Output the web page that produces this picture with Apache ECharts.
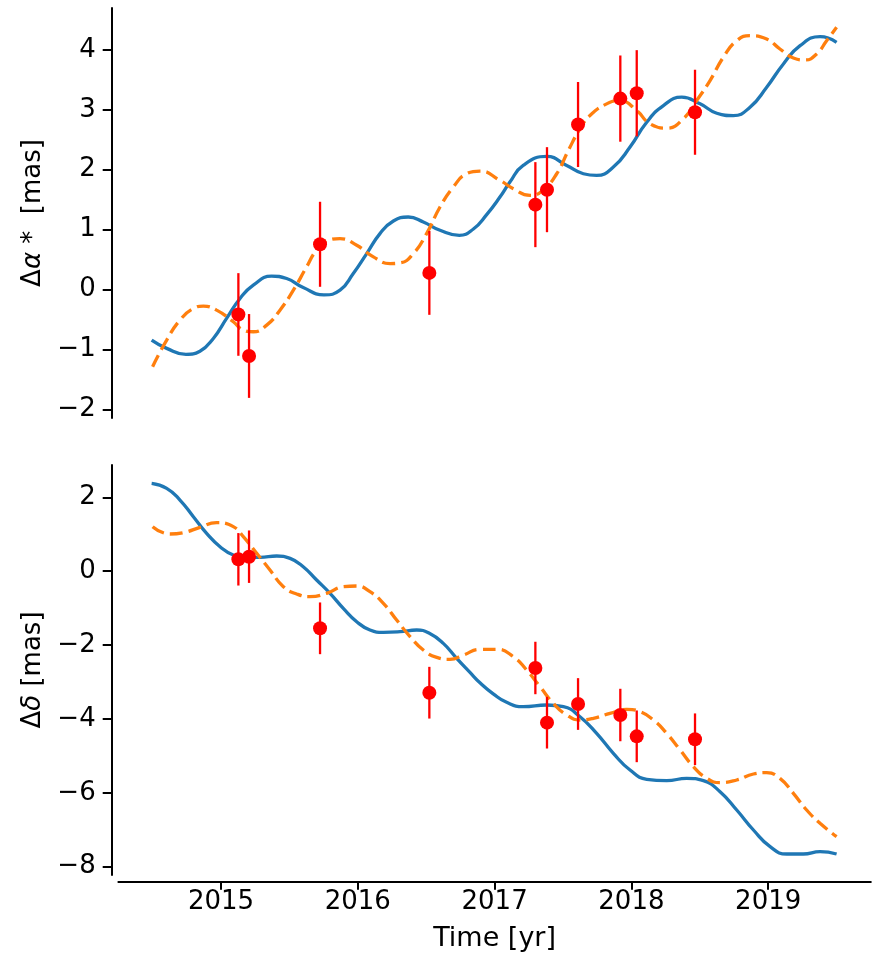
<!DOCTYPE html>
<html>
<head>
<meta charset="utf-8">
<script src="https://cdn.jsdelivr.net/npm/echarts@6/dist/echarts.min.js"></script>
<style>html,body{margin:0;padding:0;background:#fff;}#c{width:877px;height:959px;}</style>
</head>
<body>
<div id="c"></div>
<script>
// ---------- data ----------
const obsTime = [2015.127, 2015.205, 2015.724, 2016.523, 2017.298, 2017.383, 2017.610, 2017.919, 2018.039, 2018.465];
const obsRA   = [-0.417, -1.110, 0.755, 0.277, 1.417, 1.667, 2.755, 3.188, 3.277, 2.960];
const errRA   = [0.69, 0.70, 0.71, 0.70, 0.71, 0.71, 0.71, 0.72, 0.72, 0.71];
const obsDec  = [0.322, 0.393, -1.546, -3.289, -2.620, -4.100, -3.595, -3.893, -4.470, -4.550];
const errDec  = [0.71, 0.71, 0.70, 0.70, 0.71, 0.70, 0.70, 0.71, 0.70, 0.70];

// solid (blue) model, top panel
const tBlueRA = [2014.493, 2014.603, 2014.744, 2014.846, 2014.944, 2015.041, 2015.139, 2015.236, 2015.370, 2015.480, 2015.601, 2015.753, 2015.870, 2015.967, 2016.065, 2016.162, 2016.260, 2016.369, 2016.479, 2016.601, 2016.742, 2016.845, 2016.942, 2017.039, 2017.112, 2017.209, 2017.381, 2017.527, 2017.649, 2017.746, 2017.868, 2017.990, 2018.112, 2018.234, 2018.368, 2018.502, 2018.624, 2018.745, 2018.867, 2018.989, 2019.111, 2019.233, 2019.379, 2019.500];
const vBlueRA = [-0.845, -0.983, -1.083, -1.030, -0.817, -0.483, -0.150, 0.072, 0.222, 0.183, 0.033, -0.089, -0.011, 0.267, 0.600, 0.933, 1.144, 1.211, 1.128, 0.989, 0.905, 1.010, 1.250, 1.544, 1.794, 2.072, 2.222, 2.072, 1.933, 1.905, 2.044, 2.378, 2.794, 3.072, 3.211, 3.100, 2.944, 2.905, 3.044, 3.378, 3.767, 4.072, 4.222, 4.128];

// dashed (orange) model, top panel
const tOrangeRA = [2014.500, 2014.603, 2014.700, 2014.798, 2014.871, 2014.968, 2015.090, 2015.163, 2015.236, 2015.334, 2015.431, 2015.529, 2015.626, 2015.699, 2015.797, 2015.870, 2015.992, 2016.114, 2016.236, 2016.309, 2016.406, 2016.503, 2016.601, 2016.698, 2016.795, 2016.893, 2017.039, 2017.137, 2017.259, 2017.350, 2017.454, 2017.539, 2017.624, 2017.697, 2017.819, 2017.917, 2018.038, 2018.136, 2018.258, 2018.379, 2018.477, 2018.575, 2018.672, 2018.770, 2018.867, 2018.989, 2019.086, 2019.184, 2019.269, 2019.354, 2019.427, 2019.500];
const vOrangeRA = [-1.289, -0.845, -0.511, -0.317, -0.278, -0.345, -0.539, -0.678, -0.706, -0.595, -0.345, -0.011, 0.378, 0.655, 0.833, 0.850, 0.739, 0.544, 0.433, 0.444, 0.600, 0.933, 1.378, 1.711, 1.933, 1.978, 1.822, 1.683, 1.572, 1.650, 1.933, 2.322, 2.683, 2.905, 3.100, 3.155, 2.989, 2.767, 2.694, 2.850, 3.155, 3.489, 3.878, 4.155, 4.238, 4.183, 4.016, 3.867, 3.833, 3.933, 4.155, 4.378];

// solid (blue) model, bottom panel
const tBlueDec = [2014.493, 2014.603, 2014.700, 2014.798, 2014.895, 2014.993, 2015.090, 2015.188, 2015.285, 2015.407, 2015.505, 2015.601, 2015.699, 2015.797, 2015.894, 2015.992, 2016.089, 2016.187, 2016.309, 2016.431, 2016.523, 2016.625, 2016.723, 2016.820, 2016.893, 2016.990, 2017.088, 2017.209, 2017.381, 2017.503, 2017.624, 2017.746, 2017.868, 2017.990, 2018.112, 2018.258, 2018.404, 2018.526, 2018.648, 2018.770, 2018.892, 2019.014, 2019.135, 2019.257, 2019.379, 2019.500];
const vBlueDec = [2.379, 2.243, 1.927, 1.476, 1.025, 0.664, 0.439, 0.375, 0.375, 0.411, 0.348, 0.123, -0.238, -0.599, -1.005, -1.366, -1.592, -1.655, -1.637, -1.592, -1.682, -1.953, -2.359, -2.740, -3.020, -3.320, -3.550, -3.667, -3.622, -3.667, -3.938, -4.389, -4.931, -5.382, -5.634, -5.670, -5.607, -5.670, -5.968, -6.464, -7.006, -7.457, -7.656, -7.656, -7.593, -7.656];

// dashed (orange) model, bottom panel
const tOrangeDec = [2014.500, 2014.627, 2014.725, 2014.846, 2014.968, 2015.090, 2015.163, 2015.261, 2015.358, 2015.456, 2015.553, 2015.650, 2015.772, 2015.894, 2015.992, 2016.089, 2016.187, 2016.284, 2016.382, 2016.479, 2016.577, 2016.674, 2016.772, 2016.893, 2017.015, 2017.137, 2017.234, 2017.332, 2017.429, 2017.527, 2017.624, 2017.722, 2017.844, 2017.966, 2018.063, 2018.161, 2018.258, 2018.356, 2018.453, 2018.551, 2018.648, 2018.770, 2018.892, 2018.989, 2019.086, 2019.184, 2019.281, 2019.379, 2019.500];
const vOrangeDec = [1.206, 1.007, 1.043, 1.188, 1.314, 1.206, 0.935, 0.484, 0.033, -0.419, -0.617, -0.689, -0.599, -0.419, -0.401, -0.554, -0.870, -1.321, -1.772, -2.133, -2.332, -2.386, -2.269, -2.115, -2.115, -2.314, -2.675, -3.126, -3.577, -3.893, -4.028, -3.983, -3.848, -3.739, -3.803, -4.028, -4.389, -4.840, -5.291, -5.607, -5.724, -5.652, -5.490, -5.453, -5.607, -6.013, -6.464, -6.825, -7.186];

const xTicks = [2015, 2016, 2017, 2018, 2019];
const yTicksRA = [-2, -1, 0, 1, 2, 3, 4];
const yTicksDec = [-8, -6, -4, -2, 0, 2];

// ---------- chart ----------
const FONT = 'DejaVu Sans';
const pair = (t, v) => t.map((x, i) => [x, v[i]]);
const triple = (t, v, e) => t.map((x, i) => [x, v[i], e[i]]);
const fmt = v => (v < 0 ? '\u2212' + Math.abs(v) : String(v));

function errRender(params, api) {
  const x = api.value(0), y = api.value(1), e = api.value(2);
  const a = api.coord([x, y + e]), b = api.coord([x, y - e]);
  return { type: 'line', shape: { x1: a[0], y1: a[1], x2: b[0], y2: b[1] },
           style: { stroke: '#ff0000', lineWidth: 2.3 } };
}

function yAxisCfg(idx, min, max, ticks, nameRich) {
  return {
    type: 'value', gridIndex: idx, min: min, max: max, offset: 6.7,
    name: nameRich, nameLocation: 'middle', nameGap: 48, nameRotate: 90,
    nameTextStyle: { fontFamily: FONT, fontSize: 26, color: '#000',
      rich: { n: { fontFamily: FONT, fontSize: 26, color: '#000' },
              i: { fontFamily: FONT, fontSize: 26, color: '#000', fontStyle: 'italic' } } },
    axisLine: { show: true, onZero: false, lineStyle: { color: '#000', width: 2 } },
    axisTick: { show: true, length: 9, lineStyle: { color: '#000', width: 2 }, customValues: ticks },
    axisLabel: { fontFamily: FONT, fontSize: 26, color: '#000', margin: 16, customValues: ticks, formatter: fmt },
    splitLine: { show: false }
  };
}

const lineBase = (xi, data, color, dashed) => ({
  type: 'line', xAxisIndex: xi, yAxisIndex: xi, data: data, smooth: true, showSymbol: false, silent: true,
  lineStyle: { color: color, width: 3.3, type: dashed ? [13, 6] : 'solid', cap: 'butt' }, z: dashed ? 3 : 2
});

const chart = echarts.init(document.getElementById('c'), null, { renderer: 'canvas' });
chart.setOption({
  animation: false,
  backgroundColor: '#fff',
  grid: [
    { left: 118.4, width: 752.4, top: 8, height: 410 },
    { left: 118.4, width: 752.4, top: 465, height: 410 }
  ],
  xAxis: [
    { type: 'value', gridIndex: 0, min: 2014.25, max: 2019.75, show: false },
    { type: 'value', gridIndex: 1, min: 2014.25, max: 2019.75, offset: 6.7,
      name: 'Time [yr]', nameLocation: 'middle', nameGap: 44,
      nameTextStyle: { fontFamily: FONT, fontSize: 27, color: '#000' },
      axisLine: { show: true, onZero: false, lineStyle: { color: '#000', width: 2 } },
      axisTick: { show: true, length: 8, lineStyle: { color: '#000', width: 2 }, customValues: xTicks },
      axisLabel: { fontFamily: FONT, fontSize: 26, color: '#000', margin: 8, customValues: xTicks, formatter: v => String(v) },
      splitLine: { show: false } }
  ],
  yAxis: [
    yAxisCfg(0, -2.146, 4.701, yTicksRA, '{n|Δ}{i|α}{n| *  [mas]}'),
    yAxisCfg(1, -8.224, 2.875, yTicksDec, '{n|Δ}{i|δ}{n| [mas]}')
  ],
  series: [
    lineBase(0, pair(tBlueRA, vBlueRA), '#1f77b4', false),
    lineBase(0, pair(tOrangeRA, vOrangeRA), '#ff7f0e', true),
    { type: 'custom', xAxisIndex: 0, yAxisIndex: 0, data: triple(obsTime, obsRA, errRA), renderItem: errRender,
      encode: { x: 0, y: 1 }, z: 4, silent: true },
    { type: 'scatter', xAxisIndex: 0, yAxisIndex: 0, data: pair(obsTime, obsRA), symbol: 'circle', symbolSize: 14,
      itemStyle: { color: '#ff0000', opacity: 1 }, z: 5, silent: true },

    lineBase(1, pair(tBlueDec, vBlueDec), '#1f77b4', false),
    lineBase(1, pair(tOrangeDec, vOrangeDec), '#ff7f0e', true),
    { type: 'custom', xAxisIndex: 1, yAxisIndex: 1, data: triple(obsTime, obsDec, errDec), renderItem: errRender,
      encode: { x: 0, y: 1 }, z: 4, silent: true },
    { type: 'scatter', xAxisIndex: 1, yAxisIndex: 1, data: pair(obsTime, obsDec), symbol: 'circle', symbolSize: 14,
      itemStyle: { color: '#ff0000', opacity: 1 }, z: 5, silent: true }
  ]
});
</script>
</body>
</html>
